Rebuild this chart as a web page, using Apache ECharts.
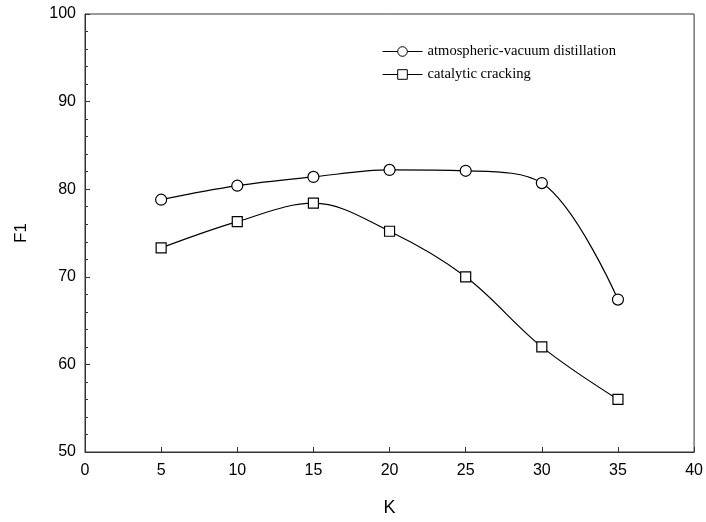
<!DOCTYPE html>
<html>
<head>
<meta charset="utf-8">
<script src="https://cdn.jsdelivr.net/npm/echarts@6/dist/echarts.min.js"></script>
<style>
  html, body { margin: 0; padding: 0; background: #fff; }
  #chart { width: 706px; height: 522px; }
</style>
</head>
<body>
<div id="chart"></div>
<script>
const kValues = [5, 10, 15, 20, 25, 30, 35]
const distillationF1 = [78.8, 80.4, 81.4, 82.2, 82.1, 80.7, 67.4]
const crackingF1 = [73.3, 76.3, 78.4, 75.2, 70.0, 62.0, 56.0]
const seriesNames = ['atmospheric-vacuum distillation', 'catalytic cracking']

const toPairs = (ys) => kValues.map((k, i) => [k, ys[i]])

const axisColor = '#333'
const labelFont = { fontFamily: 'Liberation Sans', fontSize: 16, color: '#000' }
const chart = echarts.init(document.getElementById('chart'))

const lineSeries = (name, data, symbol, size) => ({
  name,
  type: 'line',
  data: toPairs(data),
  smooth: 0.35,
  symbol,
  symbolSize: size,
  showAllSymbol: true,
  lineStyle: { color: '#000', width: 1.2 },
  itemStyle: { color: '#fff', borderColor: '#000', borderWidth: 1.2 },
  emphasis: { disabled: true }
})

chart.setOption({
  animation: false,
  grid: {
    left: 85, right: 10, top: 14, bottom: 68,
    show: true, borderColor: axisColor, borderWidth: 1
  },
  legend: {
    left: 377, top: 39,
    orient: 'vertical',
    itemWidth: 40, itemHeight: 12, itemGap: 8,
    lineStyle: { width: 1 },
    itemStyle: { borderWidth: 1 },
    textStyle: { fontFamily: 'Liberation Serif', fontSize: 14.6, color: '#000' },
    data: seriesNames
  },
  xAxis: {
    type: 'value',
    min: 0, max: 40, interval: 5,
    name: 'K',
    nameLocation: 'middle',
    nameGap: 47,
    nameTextStyle: { fontFamily: 'Liberation Sans', fontSize: 18, color: '#000' },
    axisLine: { lineStyle: { color: axisColor } },
    axisTick: { inside: true, length: 5, lineStyle: { color: axisColor } },
    axisLabel: { ...labelFont, margin: 11 },
    splitLine: { show: false }
  },
  yAxis: {
    type: 'value',
    min: 50, max: 100, interval: 10,
    name: 'F1',
    nameLocation: 'middle',
    nameGap: 55,
    nameTextStyle: { fontFamily: 'Liberation Sans', fontSize: 17, color: '#000' },
    axisLine: { show: true, lineStyle: { color: axisColor } },
    axisTick: { inside: true, length: 5, lineStyle: { color: axisColor } },
    minorTick: { show: true, splitNumber: 5, length: 3, lineStyle: { color: axisColor } },
    axisLabel: { ...labelFont, margin: 9 },
    splitLine: { show: false }
  },
  series: [
    lineSeries(seriesNames[0], distillationF1, 'circle', 11),
    lineSeries(seriesNames[1], crackingF1, 'rect', 10)
  ]
})
</script>
</body>
</html>
